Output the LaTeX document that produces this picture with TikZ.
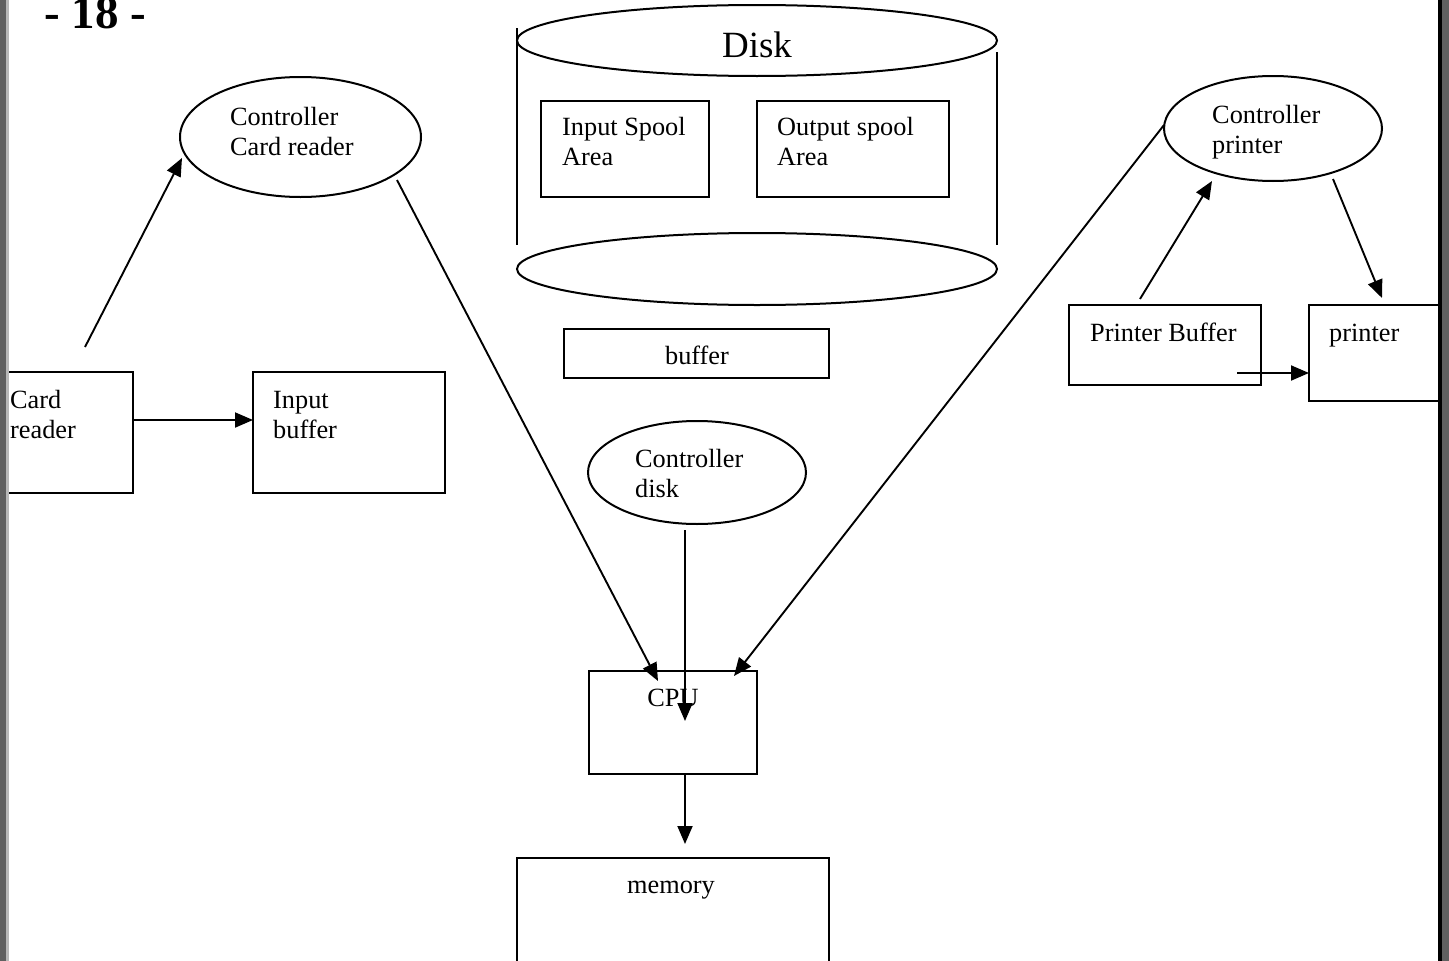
\documentclass[tikz,border=0pt]{standalone}
\usepackage{fontspec}
\setmainfont{Liberation Serif}
\usetikzlibrary{arrows.meta,shapes.geometric}

% two left-aligned lines whose baseline is the first line's
\newcommand{\twoline}[2]{\begin{tabular}[t]{@{}l@{}}#1\\#2\end{tabular}}

\tikzset{
  lbl/.style={inner sep=0pt, anchor=base west, font=\fontsize{26.3}{30.5}\selectfont},
  clbl/.style={lbl, anchor=base},
  boxnode/.style={draw, line width=2pt, inner sep=0pt, rectangle},
  ovalnode/.style={draw, line width=2pt, inner sep=0pt, ellipse},
  link/.style={line width=1.9pt, -{Triangle[length=18pt,width=15pt]}},
  plainline/.style={line width=1.9pt},
}

\begin{document}
\begin{tikzpicture}[x=1pt,y=-1pt]
\useasboundingbox (0,0) rectangle (1449,961);

% page number
\node[inner sep=0pt, anchor=base west, font=\fontsize{47}{50}\selectfont\bfseries] (pagenum) at (44,28) {- 18 -};

% ---- card reader side ----
\node[boxnode, minimum width=135pt, minimum height=121pt] (cr) at (65.5,432.5) {};
\node[lbl] (crtxt) at (10,408) {\twoline{Card}{reader}};
\node[boxnode, minimum width=192pt, minimum height=121pt] (ib) at (349,432.5) {};
\node[lbl] (ibtxt) at (273,408) {\twoline{Input}{buffer}};
\node[ovalnode, minimum width=241pt, minimum height=120pt] (crc) at (300.5,137) {};
\node[lbl] (crctxt) at (230,125) {\twoline{Controller}{Card reader}};

% ---- disk ----
\node[ovalnode, minimum width=480pt, minimum height=71pt] (disktop) at (757,40.5) {};
\node[clbl, font=\fontsize{37}{42}\selectfont] (disktxt) at (757,57) {Disk};
\node[ovalnode, minimum width=480pt, minimum height=72pt] (diskbot) at (757,269) {};
\coordinate (dl1) at (517,28);  \coordinate (dl2) at (517,245);
\coordinate (dr1) at (997,52);  \coordinate (dr2) at (997,245);
\draw[plainline] (dl1) -- (dl2);
\draw[plainline] (dr1) -- (dr2);
\node[boxnode, minimum width=168pt, minimum height=96pt] (isa) at (625,149) {};
\node[lbl] (isatxt) at (562,135) {\twoline{Input Spool}{Area}};
\node[boxnode, minimum width=192pt, minimum height=96pt] (osa) at (853,149) {};
\node[lbl] (osatxt) at (777,135) {\twoline{Output spool}{Area}};

% ---- centre column ----
\node[boxnode, minimum width=265pt, minimum height=49pt] (buf) at (696.5,353.5) {};
\node[clbl] (buftxt) at (697,364) {buffer};
\node[ovalnode, minimum width=218pt, minimum height=103pt] (cd) at (697,472.5) {};
\node[lbl] (cdtxt) at (635,467) {\twoline{Controller}{disk}};
\node[boxnode, minimum width=168pt, minimum height=103pt] (cpu) at (673,722.5) {};
\node[clbl] (cputxt) at (673,706) {CPU};
\node[boxnode, minimum width=312pt, minimum height=104pt] (mem) at (673,910) {};
\node[clbl] (memtxt) at (671,893) {memory};

% ---- printer side ----
\node[ovalnode, minimum width=218pt, minimum height=105pt] (cp) at (1273,128.5) {};
\node[lbl] (cptxt) at (1212,123) {\twoline{Controller}{printer}};
\node[boxnode, minimum width=192pt, minimum height=80pt] (pb) at (1165,345) {};
\node[lbl] (pbtxt) at (1090,341) {Printer Buffer};
\node[boxnode, minimum width=136pt, minimum height=96pt] (pr) at (1377,353) {};
\node[lbl] (prtxt) at (1329,341) {printer};

% ---- connector ends ----
\coordinate (crOut) at (85,347);    \coordinate (crcIn) at (182,158);
\coordinate (crSide) at (133,420);  \coordinate (ibSide) at (253,420);
\coordinate (crcOut) at (397,180);  \coordinate (cpuInL) at (658,681);
\coordinate (cpOut) at (1164,125);  \coordinate (cpuInR) at (734,676);
\coordinate (cdOut) at (685,530);   \coordinate (cpuInM) at (685,721);
\coordinate (cpuOut) at (685,774);  \coordinate (memIn) at (685,844);
\coordinate (pbOut) at (1140,299);  \coordinate (cpIn) at (1212,181);
\coordinate (cpOutR) at (1333,179); \coordinate (prIn) at (1382,298);
\coordinate (pbOutR) at (1237,373); \coordinate (prSide) at (1309,373);

\draw[link] (crOut) -- (crcIn);
\draw[link] (crSide) -- (ibSide);
\draw[link] (crcOut) -- (cpuInL);
\draw[link] (cpOut) -- (cpuInR);
\draw[link] (cdOut) -- (cpuInM);
\draw[link] (cpuOut) -- (memIn);
\draw[link] (pbOut) -- (cpIn);
\draw[link] (cpOutR) -- (prIn);
\draw[link] (pbOutR) -- (prSide);

% ---- page frame ----
\fill[fill={rgb,255:red,96;green,96;blue,96}] (0,0) rectangle (6,961);
\fill[fill={rgb,255:red,184;green,184;blue,184}] (6,0) rectangle (9,961);
\fill[black] (1438,0) rectangle (1442,961);
\fill[fill={rgb,255:red,96;green,96;blue,96}] (1442,0) rectangle (1449,961);
\end{tikzpicture}
\end{document}
